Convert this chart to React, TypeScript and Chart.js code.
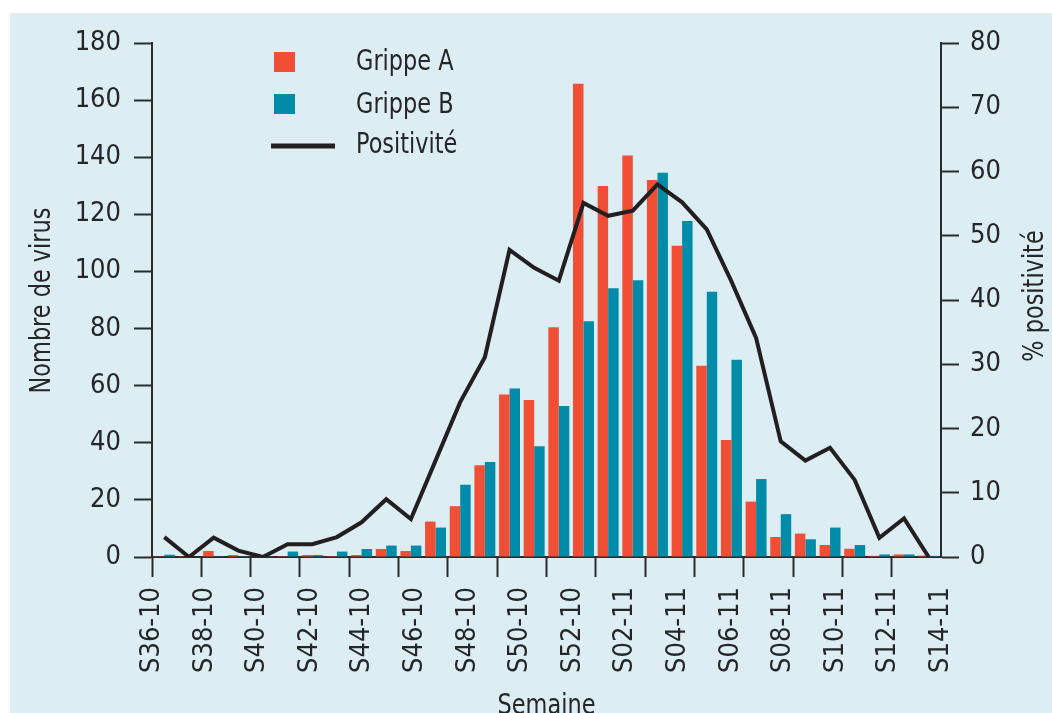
import React, { useEffect, useRef } from "react";
import { Chart, registerables } from "chart.js";

Chart.register(...registerables);

// ---- data ----
const weeks = [
  "S36-10", "S37-10", "S38-10", "S39-10", "S40-10", "S41-10", "S42-10", "S43-10",
  "S44-10", "S45-10", "S46-10", "S47-10", "S48-10", "S49-10", "S50-10", "S51-10",
  "S52-10", "S01-11", "S02-11", "S03-11", "S04-11", "S05-11", "S06-11", "S07-11",
  "S08-11", "S09-11", "S10-11", "S11-11", "S12-11", "S13-11", "S14-11", "S15-11",
];
const grippeA = [
  0.3, 0.3, 2.1, 0.7, 0, 0.3, 0.7, 0.3, 0.7, 2.8, 2.1, 12.4, 17.8, 32.1, 56.9, 55,
  80.5, 165.7, 129.9, 140.6, 132, 109, 67, 41, 19.4, 7.0, 8.2, 4.2, 2.9, 0.4, 0.9, 0.5,
];
const grippeB = [
  0.8, 0, 0.3, 0.3, 0.3, 1.9, 0.7, 1.9, 2.8, 4.0, 4.0, 10.3, 25.3, 33.3, 59, 38.8,
  52.9, 82.6, 94.1, 96.9, 134.6, 117.7, 92.9, 69.1, 27.3, 15.0, 6.2, 10.3, 4.2, 0.9, 0.9, 0.4,
];
const positivite = [
  3.1, 0, 3.0, 1.0, 0, 2.0, 2.0, 3.1, 5.4, 9.0, 5.9, 15.0, 24.1, 31.1, 47.8, 45.0,
  43.0, 55.1, 53.1, 53.9, 58.0, 55.2, 51.0, 42.9, 34.1, 18.0, 15.0, 17.0, 12.0, 3.0, 6.0, 0,
];
const tickLabels = [
  "S36-10", "S38-10", "S40-10", "S42-10", "S44-10", "S46-10", "S48-10", "S50-10",
  "S52-10", "S02-11", "S04-11", "S06-11", "S08-11", "S10-11", "S12-11", "S14-11",
];
const seriesNames = ["Grippe A", "Grippe B", "Positivité"];
const axisTitles = { left: "Nombre de virus", right: "% positivité", bottom: "Semaine" };

// ---- styles ----
const FONT = "'DejaVu Sans Condensed', 'DejaVu Sans', sans-serif";
const RED = "#f04f36";
const TEAL = "#008ca8";
const LINE = "#231f20";
const AXIS = "#2b2b2b";
const TEXT = "#262626";
const PANEL = "#ddedf4";
const TEXT_SIZE = 28;
const SQUEEZE = 0.89;
const TICK_SIZE = 27;

function drawText(ctx: CanvasRenderingContext2D, text: string, x: number, y: number, rot: number) {
  ctx.save();
  ctx.translate(x, y);
  if (rot) ctx.rotate(rot);
  ctx.scale(SQUEEZE, 1);
  ctx.fillText(text, 0, 0);
  ctx.restore();
}

const decor = {
  id: "decor",
  beforeDraw(chart: any) {
    const { ctx, width, height } = chart;
    ctx.save();
    ctx.fillStyle = "#ffffff";
    ctx.fillRect(0, 0, width, height);
    ctx.fillStyle = PANEL;
    ctx.fillRect(10, 13, width - 10, height - 13);
    ctx.restore();
  },
  afterDraw(chart: any) {
    const { ctx, chartArea: a } = chart;
    const cy = (a.top + a.bottom) / 2;
    ctx.save();
    ctx.fillStyle = TEXT;
    ctx.font = `${TEXT_SIZE}px ${FONT}`;
    ctx.textAlign = "center";
    ctx.textBaseline = "alphabetic";
    drawText(ctx, axisTitles.left, 50, cy + 0.5, -Math.PI / 2);
    drawText(ctx, axisTitles.right, 1043, cy - 4, -Math.PI / 2);
    drawText(ctx, axisTitles.bottom, (a.left + a.right) / 2, 713.5, 0);

    // legend
    const lx = a.left + 122;
    ctx.fillStyle = RED;
    ctx.fillRect(lx, 52, 21, 20);
    ctx.fillStyle = TEAL;
    ctx.fillRect(lx, 94, 21, 20);
    ctx.strokeStyle = LINE;
    ctx.lineWidth = 5;
    ctx.beginPath();
    ctx.moveTo(lx - 3, 146);
    ctx.lineTo(lx + 61, 146);
    ctx.stroke();
    ctx.fillStyle = TEXT;
    ctx.textAlign = "left";
    drawText(ctx, seriesNames[0], lx + 82, 70, 0);
    drawText(ctx, seriesNames[1], lx + 82, 113, 0);
    drawText(ctx, seriesNames[2], lx + 82, 153, 0);
    ctx.restore();
  },
};

export default function App() {
  const ref = useRef<HTMLCanvasElement | null>(null);

  useEffect(() => {
    if (!ref.current) return;
    const chart = new Chart(ref.current, {
      type: "bar",
      data: {
        labels: weeks,
        datasets: [
          {
            type: "line",
            label: seriesNames[2],
            data: positivite,
            yAxisID: "y2",
            xAxisID: "x",
            borderColor: LINE,
            borderWidth: 4,
            pointRadius: 0,
            tension: 0,
            fill: false,
            order: 0,
          } as any,
          {
            label: seriesNames[0],
            data: grippeA,
            backgroundColor: RED,
            yAxisID: "y",
            xAxisID: "x",
            categoryPercentage: 0.85,
            barPercentage: 1,
            order: 1,
          },
          {
            label: seriesNames[1],
            data: grippeB,
            backgroundColor: TEAL,
            yAxisID: "y",
            xAxisID: "x",
            categoryPercentage: 0.85,
            barPercentage: 1,
            order: 1,
          },
        ],
      },
      plugins: [decor],
      options: {
        responsive: false,
        animation: false,
        layout: { padding: { top: 43, left: 0, right: 0, bottom: 0 } },
        plugins: {
          legend: { display: false },
          tooltip: { enabled: false },
        },
        scales: {
          x: {
            type: "category",
            position: "bottom",
            offset: true,
            weight: 0,
            ticks: { display: false },
            grid: {
              display: true,
              offset: true,
              drawOnChartArea: false,
              drawTicks: true,
              tickLength: 20,
              tickWidth: 2,
              tickColor: (c: any) => (c.index % 2 === 0 ? AXIS : "rgba(0,0,0,0)"),
            },
            border: { display: true, color: AXIS, width: 2 },
            afterFit: (s: any) => {
              s.height = 20;
            },
          },
          xl: {
            type: "linear",
            position: "bottom",
            weight: 1,
            offset: false,
            min: 0,
            max: tickLabels.length - 1,
            afterBuildTicks: (s: any) => {
              s.ticks = tickLabels.map((_, i) => ({ value: i }));
            },
            ticks: {
              autoSkip: false,
              maxRotation: 90,
              minRotation: 90,
              padding: 10,
              color: TEXT,
              font: { size: TICK_SIZE, family: FONT },
              callback: (v: any) => tickLabels[Math.round(Number(v))] ?? "",
            },
            grid: { display: false, drawTicks: false, offset: false },
            border: { display: false },
            afterFit: (s: any) => {
              s.height = 136;
            },
          },
          y: {
            type: "linear",
            position: "left",
            min: 0,
            max: 180,
            ticks: {
              stepSize: 20,
              padding: 13,
              color: TEXT,
              font: { size: TICK_SIZE, family: FONT },
            },
            grid: {
              drawOnChartArea: false,
              drawTicks: true,
              tickLength: 18,
              tickWidth: 2,
              tickColor: AXIS,
            },
            border: { display: true, color: AXIS, width: 2 },
            afterFit: (s: any) => {
              s.width = 152;
            },
          },
          y2: {
            type: "linear",
            position: "right",
            min: 0,
            max: 80,
            ticks: {
              stepSize: 10,
              padding: 11,
              color: TEXT,
              font: { size: TICK_SIZE, family: FONT },
            },
            grid: {
              drawOnChartArea: false,
              drawTicks: true,
              tickLength: 18,
              tickWidth: 2,
              tickColor: AXIS,
            },
            border: { display: true, color: AXIS, width: 2 },
            afterFit: (s: any) => {
              s.width = 111;
            },
          },
        },
      } as any,
    });
    return () => chart.destroy();
  }, []);

  return (
    <div style={{ position: "absolute", left: 0, top: 0, width: 1052, height: 713 }}>
      <canvas ref={ref} width={1052} height={713} style={{ display: "block" }} />
    </div>
  );
}
